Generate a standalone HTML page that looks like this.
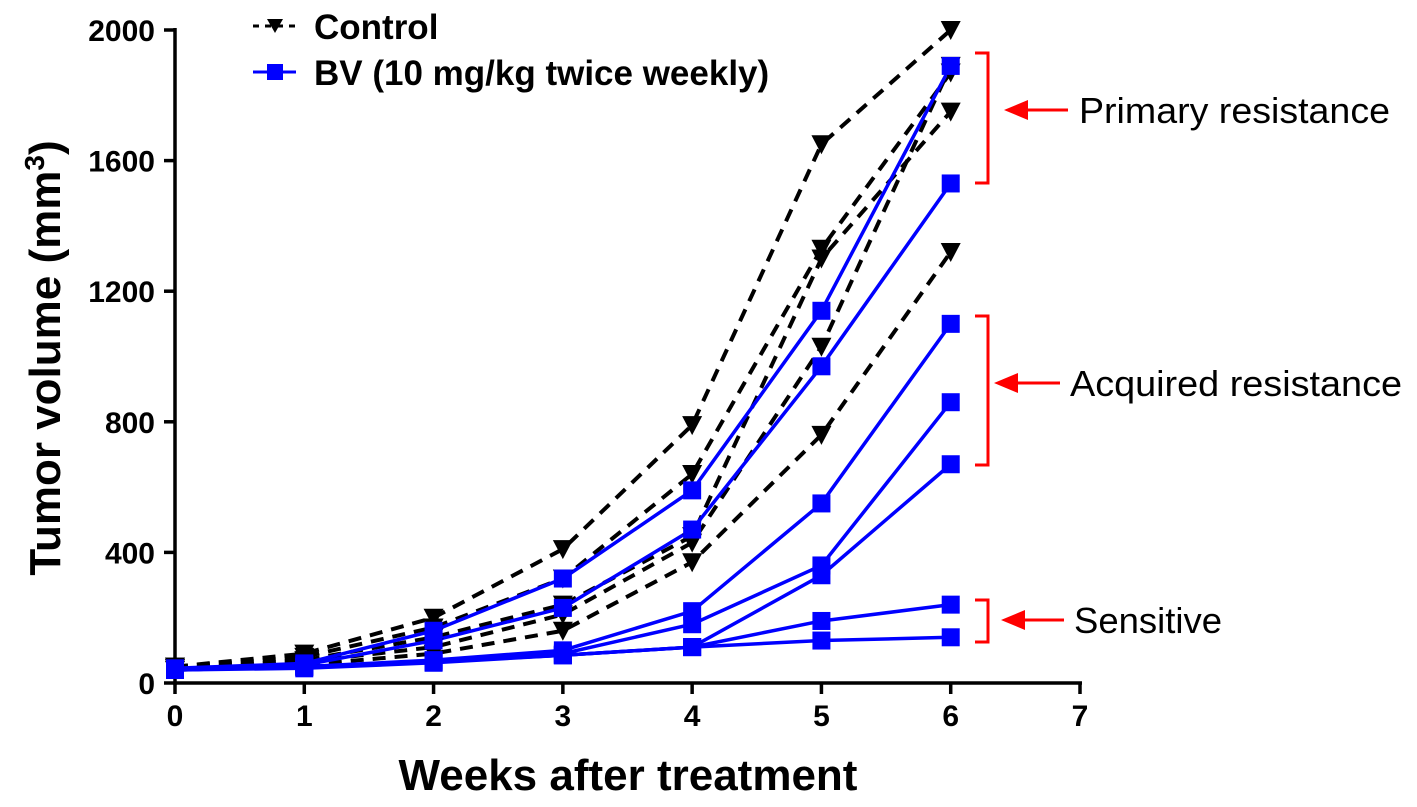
<!DOCTYPE html>
<html><head><meta charset="utf-8"><style>
html,body{margin:0;padding:0;background:#fff;}
svg{display:block;font-family:"Liberation Sans",Arial,sans-serif;}
</style></head><body>
<svg id="chart" width="1417" height="807" viewBox="0 0 1417 807" xmlns="http://www.w3.org/2000/svg">
<g id="axes"></g>
<g id="series"></g>
<g id="legend">
  <line x1="253" y1="26" x2="296" y2="26" stroke="#000" stroke-width="3" stroke-dasharray="6,6"/>
  <path d="M267,19 L283,19 L275,33 Z" fill="#000"/>
  <text x="314" y="39" font-size="35" font-weight="bold">Control</text>
  <line x1="253" y1="72" x2="296" y2="72" stroke="#0000ff" stroke-width="3"/>
  <rect x="267" y="64" width="16" height="16" fill="#0000ff"/>
  <text x="314" y="85" font-size="35" font-weight="bold">BV (10 mg/kg twice weekly)</text>
</g>
<g id="annotations" fill="none" stroke="#ff0000" stroke-width="3">
  <path d="M975,53 H988 V183 H975"/>
  <path d="M975,316 H988 V465 H975"/>
  <path d="M975,600 H988 V642 H975"/>
  <line x1="1025" y1="110" x2="1068" y2="110"/><path d="M1004,110 L1028,100 L1028,120 Z" fill="#ff0000" stroke="none"/>
  <line x1="1015" y1="383" x2="1060" y2="383"/><path d="M994,383 L1018,373 L1018,393 Z" fill="#ff0000" stroke="none"/>
  <line x1="1022" y1="620" x2="1064" y2="620"/><path d="M1001,620 L1025,610 L1025,630 Z" fill="#ff0000" stroke="none"/>
</g>
<g font-size="36" fill="#000">
  <text x="1079" y="123" textLength="311" lengthAdjust="spacingAndGlyphs">Primary resistance</text>
  <text x="1070" y="396" textLength="332" lengthAdjust="spacingAndGlyphs">Acquired resistance</text>
  <text x="1074" y="633" textLength="148" lengthAdjust="spacingAndGlyphs">Sensitive</text>
</g>
</svg>
<script>
const weeks=[0,1,2,3,4,5,6];
const xTicks=[0,1,2,3,4,5,6,7];
const yTicks=[0,400,800,1200,1600,2000];
const control1=[50,90,200,410,790,1650,2000];
const control2=[50,80,170,320,640,1330,1870];
const control3=[45,70,140,240,450,1300,1750];
const control4=[45,65,110,210,430,1030,1890];
const control5=[40,55,90,160,370,760,1320];
const bv1=[45,60,160,320,590,1140,1890];
const bv2=[40,55,130,230,470,970,1530];
const bv3=[40,50,70,100,220,550,1100];
const bv4=[40,50,65,90,180,360,860];
const bv5=[40,50,65,85,110,330,670];
const bv6=[40,50,65,85,110,190,240];
const bv7=[40,45,62,85,110,130,140];
const controls=[control1,control2,control3,control4,control5];
const bvs=[bv1,bv2,bv3,bv4,bv5,bv6,bv7];
const NS="http://www.w3.org/2000/svg";
const X0=175,X1=1080,Y0=683,Y1=30;
const sx=v=>X0+(X1-X0)*v/7;
const sy=v=>Y0-(Y0-Y1)*v/2000;
function mk(tag,attrs,parent){const e=document.createElementNS(NS,tag);for(const k in attrs)e.setAttribute(k,attrs[k]);parent.appendChild(e);return e;}
const ax=document.getElementById('axes');
let e=mk('line',{x1:X0,y1:Y0,x2:X1+2,y2:Y0,stroke:'#000','stroke-width':3.5},ax);


e=mk('line',{x1:X0,y1:Y1-2,x2:X0,y2:Y0+2,stroke:'#000','stroke-width':3.5},ax);


xTicks.forEach(t=>{
  mk('line',{x1:sx(t),y1:Y0,x2:sx(t),y2:Y0+11,stroke:'#000','stroke-width':3.5},ax);
  const tx=mk('text',{x:sx(t),y:Y0+43,'text-anchor':'middle','font-size':30,'font-weight':'bold'},ax);
  tx.textContent=t;
  
  
});
yTicks.forEach(t=>{
  mk('line',{x1:X0-11,y1:sy(t),x2:X0,y2:sy(t),stroke:'#000','stroke-width':3.5},ax);
  const tx=mk('text',{x:X0-20,y:sy(t)+11,'text-anchor':'end','font-size':30,'font-weight':'bold'},ax);
  tx.textContent=t;
  
  
});
const xt=mk('text',{x:628,y:790,'text-anchor':'middle','font-size':44,'font-weight':'bold'},ax);
xt.textContent='Weeks after treatment';


const yt=mk('text',{transform:'translate(60,358) rotate(-90)','text-anchor':'middle','font-size':44,'font-weight':'bold'},ax);
yt.innerHTML='Tumor volume (mm<tspan dy="-16" font-size="28">3</tspan><tspan dy="16">)</tspan>';


const sg=document.getElementById('series');
controls.forEach((s,i)=>{
  const p=mk('polyline',{points:s.map((v,j)=>sx(weeks[j])+','+sy(v)).join(' '),fill:'none',stroke:'#000','stroke-width':4,'stroke-dasharray':'13,9'},sg);
  
  
});
bvs.forEach((s,i)=>{
  const p=mk('polyline',{points:s.map((v,j)=>sx(weeks[j])+','+sy(v)).join(' '),fill:'none',stroke:'#0000ff','stroke-width':3.5},sg);
  
  
});
controls.forEach((s,i)=>{s.forEach((v,j)=>{
  const x=sx(weeks[j]),y=sy(v);
  const m=mk('path',{d:`M${x-10},${y-9} L${x+10},${y-9} L${x},${y+10} Z`,fill:'#000'},sg);
  
  
});});
bvs.forEach((s,i)=>{s.forEach((v,j)=>{
  const x=sx(weeks[j]),y=sy(v);
  const m=mk('rect',{x:x-9,y:y-9,width:18,height:18,fill:'#0000ff'},sg);
  
  
});});
</script>
</body></html>
